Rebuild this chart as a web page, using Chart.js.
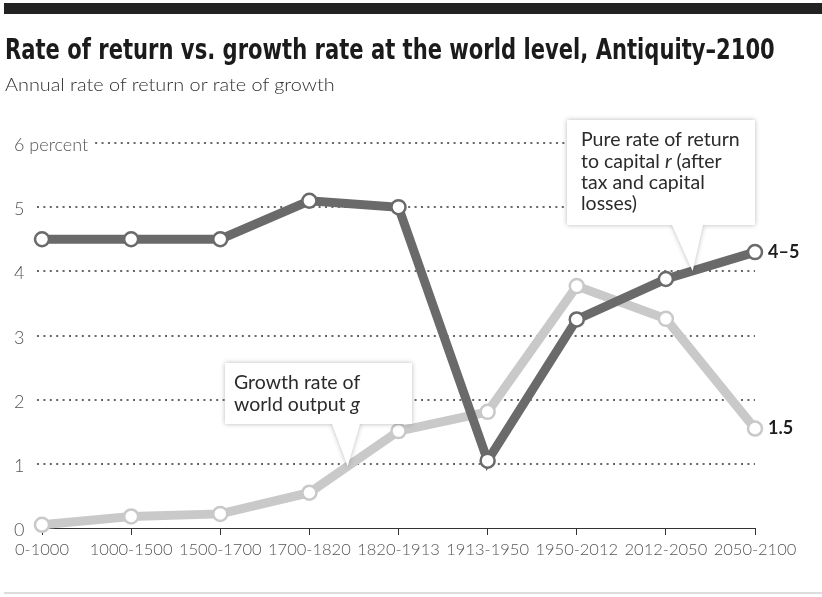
<!DOCTYPE html>
<html>
<head>
<meta charset="utf-8">
<script src="https://cdn.jsdelivr.net/npm/chart.js@4.4.1/dist/chart.umd.min.js"></script>
<style>
body{margin:0;background:#fff;}
#wrap{position:relative;width:822px;height:597px;overflow:hidden;background:#fff;}
#bar{position:absolute;left:4px;top:3px;width:818px;height:11px;background:#222;z-index:2;}
#title{position:absolute;left:5px;top:35px;font:bold 29px "Liberation Sans Narrow","DejaVu Sans Condensed",sans-serif;line-height:1;color:#1b1b1b;white-space:nowrap;transform-origin:0 0;z-index:2;}
#sub{position:absolute;left:5px;top:75px;font:300 18px Lato,sans-serif;line-height:1;color:#2e2e2e;white-space:nowrap;transform-origin:0 0;z-index:2;}
#foot{position:absolute;left:4px;top:592px;width:818px;height:2px;background:#ddd;z-index:2;}
canvas{position:absolute;left:0;top:0;}
</style>
</head>
<body>
<div id="wrap">
  <div id="bar"></div>
  <div id="title">Rate of return vs. growth rate at the world level, Antiquity–2100</div>
  <div id="sub">Annual rate of return or rate of growth</div>
  <canvas id="myChart" width="822" height="597"></canvas>
  <div id="foot"></div>
</div>
<script>
// periods on the x axis
const periods = ['0-1000','1000-1500','1500-1700','1700-1820','1820-1913','1913-1950','1950-2012','2012-2050','2050-2100'];
// pure rate of return to capital r
const returnRate = [4.5, 4.5, 4.5, 5.1, 5.0, 1.05, 3.25, 3.88, 4.3];
// growth rate of world output g
const growthRate = [0.05, 0.18, 0.22, 0.55, 1.51, 1.81, 3.77, 3.26, 1.55];
const yTicks = [0, 1, 2, 3, 4, 5, 6];
const endLabels = ['4–5', '1.5'];

const darkGray = '#6a6a6a';
const lightGray = '#c9c9c9';

// fit title to width
const t = document.getElementById('title');
t.style.transform = 'scaleX(' + (770 / t.offsetWidth) + ')';
const s = document.getElementById('sub');
s.style.transform = 'scaleX(' + (330 / s.offsetWidth) + ')';

// y labels + dotted grid (labels overflow the narrow axis box, so drawn here)
const dotGrid = {
  id: 'dotGrid',
  beforeDatasetsDraw(chart) {
    const ctx = chart.ctx, y = chart.scales.y, area = chart.chartArea;
    ctx.save();
    ctx.font = '300 18px Lato, sans-serif';
    ctx.fillStyle = '#555';
    ctx.textBaseline = 'middle';
    yTicks.forEach(v => {
      const py = Math.round(y.getPixelForValue(v));
      const txt = v === 6 ? '6 percent' : String(v);
      ctx.fillText(txt, 14, py + 2);
      if (v === 0) return;
      const x0 = 14 + ctx.measureText(txt).width + 7;
      ctx.save();
      ctx.strokeStyle = '#666';
      ctx.lineWidth = 2;
      ctx.setLineDash([2, 4.4]);
      ctx.beginPath();
      ctx.moveTo(Math.max(37, x0), py);
      ctx.lineTo(area.right, py);
      ctx.stroke();
      ctx.restore();
    });
    ctx.restore();
  }
};

function callout(ctx, box, tip, base, inset, lines) {
  ctx.save();
  ctx.shadowColor = 'rgba(0,0,0,0.28)';
  ctx.shadowBlur = 5;
  ctx.fillStyle = '#fff';
  ctx.beginPath();
  ctx.moveTo(box.x, box.y);
  ctx.lineTo(box.x + box.w, box.y);
  ctx.lineTo(box.x + box.w, box.y + box.h);
  ctx.lineTo(base[1], box.y + box.h);
  ctx.lineTo(tip.x, tip.y);
  ctx.lineTo(base[0], box.y + box.h);
  ctx.lineTo(box.x, box.y + box.h);
  ctx.closePath();
  ctx.fill();
  ctx.restore();
  ctx.save();
  ctx.fillStyle = '#2b2b2b';
  ctx.textBaseline = 'middle';
  lines.forEach((segs, i) => {
    let x = box.x + inset;
    const y = box.y + 20 + i * 21.3;
    segs.forEach(sg => {
      ctx.font = (sg[1] ? 'italic ' : '') + '19.5px Lato, sans-serif';
      ctx.fillText(sg[0], x, y);
      x += ctx.measureText(sg[0]).width;
    });
  });
  ctx.restore();
}

function lerpPt(meta, i, f) {
  const a = meta.data[i], b = meta.data[i + 1];
  return {x: a.x + (b.x - a.x) * f, y: a.y + (b.y - a.y) * f};
}

const notes = {
  id: 'notes',
  afterDatasetsDraw(chart) {
    const ctx = chart.ctx;
    const mr = chart.getDatasetMeta(0), mg = chart.getDatasetMeta(1);
    callout(ctx, {x: 567, y: 120, w: 188, h: 105}, lerpPt(mr, 7, 0.3), [672, 703], 14, [
      [['Pure rate of return', false]],
      [['to capital ', false], ['r', true], [' (after', false]],
      [['tax and capital', false]],
      [['losses)', false]]
    ]);
    callout(ctx, {x: 225, y: 363, w: 187, h: 61}, lerpPt(mg, 3, 0.43), [332, 360], 9, [
      [['Growth rate of', false]],
      [['world output ', false], ['g', true]]
    ]);
    ctx.save();
    ctx.font = 'bold 18px Lato, sans-serif';
    ctx.fillStyle = '#1e1e1e';
    ctx.textBaseline = 'middle';
    [mr, mg].forEach((m, i) => {
      const p = m.data[m.data.length - 1];
      ctx.fillText(endLabels[i], p.x + 13, p.y);
    });
    ctx.restore();
  }
};

const ctx = document.getElementById('myChart');
new Chart(ctx, {
  type: 'line',
  data: {
    labels: periods,
    datasets: [{
      label: 'r',
      data: returnRate,
      borderColor: darkGray,
      borderWidth: 9,
      pointRadius: 7,
      pointBorderWidth: 2.5,
      pointBackgroundColor: '#fff',
      pointBorderColor: darkGray,
      clip: false
    }, {
      label: 'g',
      data: growthRate,
      borderColor: lightGray,
      borderWidth: 9,
      pointRadius: 7,
      pointBorderWidth: 2.5,
      pointBackgroundColor: '#fff',
      pointBorderColor: lightGray,
      clip: false
    }]
  },
  options: {
    responsive: false,
    animation: false,
    layout: {padding: {left: 14, right: 67, top: 143, bottom: 0}},
    plugins: {legend: {display: false}, tooltip: {enabled: false}},
    scales: {
      x: {
        offset: false,
        grid: {display: true, drawOnChartArea: false, drawTicks: true, tickLength: 7, color: '#333', lineWidth: 1},
        border: {display: true, color: '#333', width: 1},
        ticks: {color: '#555', font: {family: 'Lato', size: 16.5, weight: 300}, padding: 5, maxRotation: 0, autoSkip: false},
        afterFit(sc) { sc.height = 69; }
      },
      y: {
        min: 0,
        max: 6,
        afterBuildTicks(sc) { sc.ticks = yTicks.map(v => ({value: v})); },
        grid: {display: false, drawTicks: false},
        border: {display: false},
        ticks: {display: false},
        afterFit(sc) { sc.width = 28; }
      }
    }
  },
  plugins: [dotGrid, notes]
});
</script>
</body>
</html>
